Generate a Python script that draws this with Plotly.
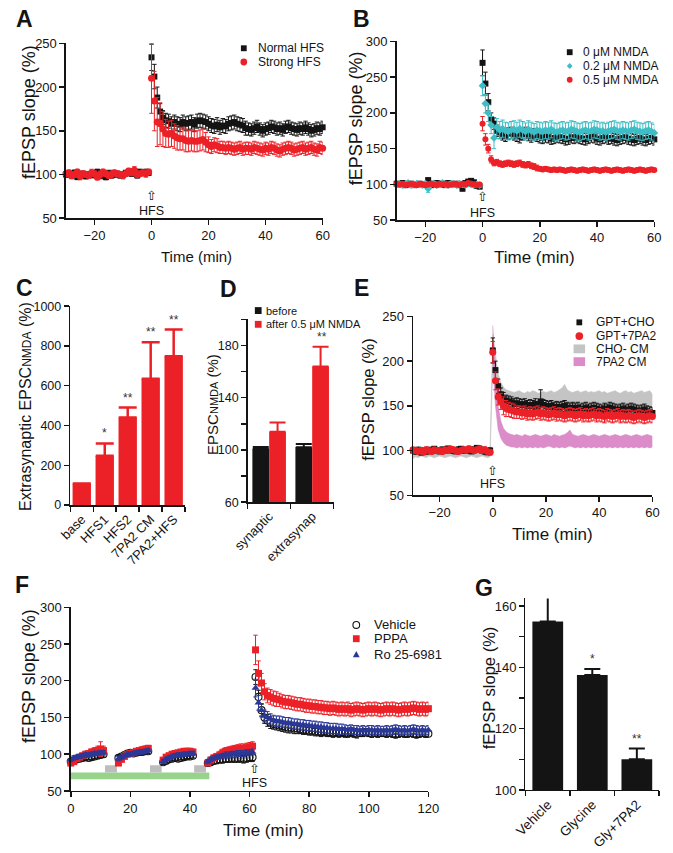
import plotly.graph_objects as go

W, H = 673, 853
FONT = "Liberation Sans, Arial, Helvetica, sans-serif"
RED = "#ec2027"; BLACK = "#141414"; CYAN = "#3dbdc6"; BLUE = "#2a3897"
GRAY = "#c4c4c4"; PINK = "#dc8cc8"; GREEN = "#97d38b"; BOXGRAY = "#bdbdbd"

def px(x): return x / W
def py(y): return 1 - y / H

# ---------------- DATA ----------------
# Panel A
tA_base = list(range(-30, 0))
tA_post = list(range(0, 61))
A_normal_base = [100,101,99,102,97,100,101,98,100,99, 101,103,98,100,97,102,99,100,101,99, 100,102,103,101,104,99,103,102,103,102]
A_normal_base_err = [3,2,3,3,2,3,2,3,3,2, 3,3,2,3,3,2,3,3,2,3, 3,2,3,3,2,3,3,2,3,3]
A_strong_base = [101,102,99,100,103,98,101,100,99,102, 101,97,100,103,101,99,100,102,101,100, 99,101,104,102,105,100,101,102,101,103]
A_strong_base_err = [3,3,4,3,3,4,3,3,3,4, 3,3,4,3,3,3,4,3,3,3, 4,3,3,3,4,3,3,3,4,3]
A_normal_post = [234,212,188,172,165,162,161,158,160,158, 157,160,158,159,160,157,161,162,161,160,
                 158,156,155,157,154,156,155,158,159,160, 158,157,156,153,152,151,153,155,152,150,
                 152,153,155,154,152,153,151,154,155,153, 152,151,153,152,154,152,150,151,153,152, 154]
A_normal_post_err = [15,14,12,9,8,8,8,8,8,8, 8,8,8,8,8,8,8,8,8,8, 8,8,8,8,8,8,8,8,8,8,
                     8,8,8,8,7,7,7,7,7,7, 7,7,7,7,7,7,7,7,7,7, 7,7,7,7,7,7,7,7,7,7, 7]
A_strong_post = [210,184,160,158,152,147,146,147,144,142, 141,141,139,138,139,138,138,139,140,137,
                 134,132,134,133,131,131,130,131,130,129, 130,131,129,130,130,129,131,130,129,128,
                 130,129,131,130,128,127,129,130,131,130, 128,129,130,131,129,130,131,129,128,131, 130]
A_strong_post_err = [40,34,28,24,20,16,15,15,14,14, 13,13,13,12,12,12,12,12,12,11,
                     9,8,8,8,7,7,7,7,7,7, 7,7,7,7,7,7,7,7,7,7, 7,7,7,7,7,7,7,7,7,7, 7,7,7,7,7,7,7,7,7,7, 7]

# Panel B
B_0_base = [101,100,102,99,100,101,99,100,101,100, 100,106,99,101,102,100,101,99,102,101, 100,101,99,94,102,104,105,103,98,97]
B_0_base_err = [3,2,3,2,3,2,3,2,3,2, 3,3,2,3,2,3,2,3,2,3, 2,3,2,3,3,2,3,2,3,3]
B_02_base = [100,101,99,100,102,99,100,101,100,99, 101,94,100,101,99,100,102,100,99,101, 100,99,101,100,99,101,100,99,100,99]
B_02_base_err = [3,3,3,3,3,3,3,3,3,3, 3,5,3,3,3,3,3,3,3,3, 3,3,3,3,3,3,3,3,3,3]
B_05_base = [101,100,101,99,100,101,100,99,101,100, 99,100,101,100,99,101,100,101,99,100, 101,100,99,101,100,102,101,100,99,100]
B_05_base_err = [2,2,2,2,2,2,2,2,2,2, 2,2,2,2,2,2,2,2,2,2, 2,2,2,2,2,2,2,2,2,2]
B_0_post = [270,241,215,191,185,175,172,170,168,171, 172,170,168,166,170,172,169,167,170,168,
            166,165,167,166,164,165,167,166,165,163, 164,166,165,167,165,164,163,165,167,166,
            164,163,165,166,164,165,163,162,164,165, 166,164,163,162,164,165,163,162,164,165, 163]
B_0_post_err = [18,16,12,9,8,8,8,8,8,8, 8,8,8,8,8,8,8,8,8,8, 8,8,8,8,8,8,8,8,8,8,
                8,8,8,8,8,8,8,8,8,8, 8,8,8,8,8,8,8,8,8,8, 8,8,8,8,8,8,8,8,8,8, 8]
B_02_post = [238,213,200,183,165,180,176,178,175,174, 176,177,175,178,176,174,177,175,173,176,
             175,174,176,175,177,174,173,175,176,174, 175,177,176,174,173,175,176,174,175,177,
             176,174,175,173,175,176,177,175,174,176, 175,174,176,177,175,174,173,175,176,174, 172]
B_02_post_err = [14,13,12,12,15,12,12,12,12,12, 12,12,12,12,12,12,12,12,12,12, 12,12,12,12,12,12,12,12,12,12,
                 12,12,12,12,12,12,12,12,12,12, 12,12,12,12,12,12,12,12,12,12, 12,12,12,12,12,12,12,12,12,12, 12]
B_05_post = [185,163,150,135,130,131,129,128,129,130, 129,128,129,130,128,127,128,126,125,123,
             122,121,122,121,120,121,120,121,120,119, 120,121,120,119,120,121,120,119,120,121,
             120,119,120,121,120,119,120,121,120,119, 120,121,120,119,120,121,120,119,120,121, 120]
B_05_post_err = [10,8,6,5,4,4,4,4,4,4, 4,4,4,4,4,4,4,4,4,4, 3,3,3,3,3,3,3,3,3,3,
                 3,3,3,3,3,3,3,3,3,3, 3,3,3,3,3,3,3,3,3,3, 3,3,3,3,3,3,3,3,3,3, 3]

# Panel C
C_cats = ["base", "HFS1", "HFS2", "7PA2 CM", "7PA2+HFS"]
C_vals = [108, 248, 440, 635, 748]
C_err = [0, 62, 50, 183, 134]
C_stars = ["", "*", "**", "**", "**"]

# Panel D
D_cats = ["synaptic", "extrasynap"]
D_before = [101, 102]
D_before_err = [1.2, 2.5]
D_after = [114, 164]
D_after_err = [7, 15]
D_stars = ["", "**"]

# Panel E
E_cho_base = [100,99,101,98,100,99,101,100,102,100, 99,101,100,102,101,100,99,101,102,100, 101,100,99,101,103,102,100,99,98,100]
E_7pa2_base = [101,100,99,100,98,101,100,99,101,100, 100,99,101,100,102,101,100,99,100,101, 100,102,101,100,101,102,100,101,99,98]
E_base_err = [2,3,2,3,2,3,2,3,2,3, 2,3,2,3,2,3,2,3,2,3, 2,3,2,3,2,3,2,3,2,3]
E_cho_post = [212,190,172,163,158,156,155,154,152,153, 152,151,152,150,151,150,152,149,155,151,
              150,149,150,148,149,148,149,150,148,147, 148,147,148,146,147,148,146,147,148,147,
              146,145,147,146,148,147,146,145,146,147, 145,146,147,146,145,144,145,146,144,143, 142]
E_cho_post_err = [14,10,8,7,7,6,6,6,6,6, 6,6,6,6,6,6,6,6,13,6, 6,6,6,6,6,6,6,6,6,6,
                  6,6,6,6,6,6,6,6,6,6, 6,6,6,6,6,6,6,6,6,6, 6,6,6,6,6,6,6,6,6,6, 6]
E_7pa2_post = [210,178,160,155,150,147,146,145,144,143, 143,142,143,141,142,141,142,143,141,142,
               141,140,141,142,140,141,140,139,140,141, 140,139,140,141,139,140,139,140,141,139,
               140,139,138,140,139,138,139,140,138,139, 138,139,138,137,138,139,138,137,138,139, 138]
E_7pa2_post_err = [12,10,9,9,10,9,8,8,8,7, 7,7,7,7,7,7,7,7,7,7, 7,7,7,7,7,7,7,7,7,7,
                   7,7,7,7,7,7,7,7,7,7, 7,7,7,7,7,7,7,7,7,7, 7,7,7,7,7,7,7,7,7,7, 7]
E_gray_base_up = [104,103,105,103,104,102,104,103,104,103, 104,103,105,104,103,104,102,104,103,104, 103,104,105,103,104,103,104,105,103,104]
E_gray_base_lo = [91,93,92,94,93,92,94,93,92,93, 94,93,92,93,94,93,92,93,94,93, 92,93,94,93,92,93,94,93,92,93]
E_gray_post_up = [230,205,186,176,171,168,167,166,165,166, 167,165,164,166,165,167,166,164,165,166,
                  165,166,167,165,166,168,170,174,168,166, 165,166,167,165,166,167,165,166,165,166,
                  167,165,166,164,165,166,167,165,164,166, 167,165,166,164,165,166,167,165,166,167, 163]
E_gray_post_lo = [196,172,155,148,146,145,144,143,143,142, 143,142,142,143,142,141,142,143,142,141,
                  142,141,142,143,142,141,142,143,142,141, 142,143,142,141,142,141,142,143,142,141,
                  142,141,142,143,142,141,142,143,142,141, 142,143,142,141,142,141,142,143,142,141, 140]
E_pink_post_up = [240,185,150,133,125,121,119,118,117,118, 117,116,118,117,116,117,118,117,116,117,
                  118,117,116,118,117,116,117,118,120,123, 118,117,116,117,118,117,116,117,118,117,
                  116,117,118,117,116,117,118,117,116,117, 118,117,116,117,118,117,116,117,118,117, 116]
E_pink_post_lo = [200,150,124,114,109,106,105,104,104,103, 104,103,104,103,104,103,104,103,104,103,
                  104,105,104,103,104,103,104,103,104,105, 104,103,104,103,104,103,104,103,104,103,
                  104,103,104,103,104,103,104,103,104,103, 104,103,104,103,104,103,104,103,104,103, 104]

# Panel F
F_t = list(range(0, 12)) + list(range(16, 27)) + list(range(31, 42)) + list(range(46, 62)) + list(range(62, 121))
F_veh = ([90,91,93,94,95,96,95,96,97,98,99,100] +
         [95,97,99,101,102,101,102,103,103,104,104] +
         [89,91,93,94,95,94,95,96,97,97,98] +
         [88,89,91,92,93,93,94,94,95,94,95,95,94,95,96,96] +
         [205,178,160,150,146,143,141,140,139,138, 137,136,136,135,135,134,133,133,132,132,
          131,131,130,131,130,130,129,130,129,130, 129,129,130,129,128,129,129,130,129,128,
          129,128,129,129,128,129,128,127,128,129, 128,128,129,128,127,128,129,128,128])
F_veh_err = ([3,3,3,2,3,3,2,3,3,3,3,4] + [3,3,2,3,3,2,3,3,3,2,3] + [3,3,2,3,3,3,2,3,3,3,3] +
             [4,4,4,5,5,5,5,5,6,5,6,6,6,6,6,6] +
             [10,9,8,8,8,8,7,7,7,7, 7,7,7,7,7,6,6,6,6,6, 6,6,6,6,6,6,6,6,6,6,
              6,6,6,6,6,5,5,5,5,5, 5,5,5,5,5,5,5,5,5,5, 5,5,5,5,5,5,5,5,5])
F_pppa = ([88,90,94,96,98,100,101,103,104,105,107,105] +
          [88,93,97,100,101,102,104,105,106,107,108] +
          [92,96,98,100,101,102,103,104,104,104,103] +
          [88,92,95,97,99,102,104,105,106,107,107,108,108,109,110,111] +
          [242,210,197,185,180,178,176,175,174,172, 171,171,170,169,168,168,167,166,166,165,
           165,164,164,163,163,162,163,162,161,162, 161,162,160,161,162,161,160,161,162,161,
           162,161,160,161,162,161,162,161,160,161, 162,161,162,163,162,161,162,161,162])
F_pppa_err = ([3,3,3,3,3,4,4,4,5,6,10,6] + [3,3,3,3,3,3,3,3,4,4,4] + [3,3,3,3,3,3,3,3,4,4,4] +
              [3,4,4,4,5,5,5,5,5,5,6,6,6,6,6,6] +
              [20,17,13,11,10,10,10,10,9,9, 9,9,9,9,9,9,9,9,9,9, 9,9,9,9,9,9,9,9,9,9,
               9,9,9,9,9,9,9,9,9,9, 9,9,9,9,9,9,9,9,9,9, 9,9,9,9,9,9,9,9,9])
F_ro = ([93,95,96,97,98,99,99,100,101,101,102,102] +
        [94,96,98,100,100,101,102,103,103,104,105] +
        [90,93,95,97,98,99,99,100,100,101,101] +
        [90,93,95,96,97,98,99,99,100,100,101,101,101,102,102,103] +
        [190,170,160,152,150,148,146,145,145,144, 143,143,142,141,141,140,140,139,139,138,
         138,137,137,136,136,135,135,135,134,134, 134,133,134,133,133,132,133,132,133,133,
         132,133,132,132,133,132,133,134,133,132, 133,132,133,134,133,132,133,132,133])
F_ro_err = ([3,3,3,3,3,3,3,3,3,3,3,3] + [3,3,3,3,3,3,3,3,3,3,3] + [3,3,3,3,3,3,3,3,3,3,3] +
            [3,3,3,3,3,3,4,4,4,4,4,4,4,4,4,4] +
            [12,10,9,8,8,7,7,7,7,7, 7,7,7,7,7,7,7,7,7,7, 7,7,7,7,7,7,7,7,7,7,
             6,6,6,6,6,6,6,6,6,6, 6,6,6,6,6,6,6,6,6,6, 6,6,6,6,6,6,6,6,6])
F_green = (0, 46.5)
F_gray_boxes = [(11.5, 15.5), (26.6, 30.5), (41.4, 45.4)]
F_hfs = 61.5

# Panel G
G_cats = ["Vehicle", "Glycine", "Gly+7PA2"]
G_vals = [155, 137.5, 110]
G_err = [8.5, 2, 3.5]
G_stars = ["", "*", "**"]

# ---------------- FIGURE ----------------
fig = go.Figure()

def ts(x, y, err, color, symbol, size, xa, ya, lw=0):
    fig.add_trace(go.Scatter(
        x=x, y=y, mode="markers", xaxis=xa, yaxis=ya,
        marker=dict(symbol=symbol, size=size, color=color, line=dict(width=lw, color=color)),
        error_y=dict(type="data", array=err, color=color, thickness=1, width=2.2),
        cliponaxis=False, showlegend=False, hoverinfo="skip"))

def band(x, up, lo, color, xa, ya):
    fig.add_trace(go.Scatter(
        x=list(x) + list(x)[::-1], y=list(up) + list(lo)[::-1], mode="lines",
        fill="toself", fillcolor=color, line=dict(width=0.6, color=color),
        xaxis=xa, yaxis=ya, showlegend=False, hoverinfo="skip"))

# A
ts(tA_base + tA_post, A_normal_base + A_normal_post, A_normal_base_err + A_normal_post_err, BLACK, "square", 6, "x", "y")
ts(tA_base + tA_post, A_strong_base + A_strong_post, A_strong_base_err + A_strong_post_err, RED, "circle", 7, "x", "y")
# B
ts(tA_base + tA_post, B_0_base + B_0_post, B_0_base_err + B_0_post_err, BLACK, "square", 6, "x2", "y2")
ts(tA_base + tA_post, B_02_base + B_02_post, B_02_base_err + B_02_post_err, CYAN, "diamond", 6, "x2", "y2")
ts(tA_base + tA_post, B_05_base + B_05_post, B_05_base_err + B_05_post_err, RED, "circle", 6, "x2", "y2")
# C
fig.add_trace(go.Bar(x=C_cats, y=C_vals, width=0.8, marker=dict(color=RED, line=dict(width=0)),
                     error_y=dict(type="data", array=C_err, arrayminus=[0]*len(C_err), symmetric=False,
                                  color=RED, thickness=2.5, width=9),
                     xaxis="x3", yaxis="y3", showlegend=False, hoverinfo="skip"))
# D
fig.add_trace(go.Bar(x=D_cats, y=[v - 60 for v in D_before], base=60, width=0.39, offset=-0.39,
                     marker=dict(color=BLACK, line=dict(width=0)),
                     error_y=dict(type="data", array=D_before_err, arrayminus=[0, 0], symmetric=False,
                                  color=BLACK, thickness=2, width=8),
                     xaxis="x4", yaxis="y4", showlegend=False, hoverinfo="skip"))
fig.add_trace(go.Bar(x=D_cats, y=[v - 60 for v in D_after], base=60, width=0.39, offset=0,
                     marker=dict(color=RED, line=dict(width=0)),
                     error_y=dict(type="data", array=D_after_err, arrayminus=[0, 0], symmetric=False,
                                  color=RED, thickness=2, width=8),
                     xaxis="x4", yaxis="y4", showlegend=False, hoverinfo="skip"))
# E
band(tA_base + tA_post, E_gray_base_up + E_gray_post_up, E_gray_base_lo + E_gray_post_lo, GRAY, "x5", "y5")
band(tA_post, E_pink_post_up, E_pink_post_lo, PINK, "x5", "y5")
ts(tA_base + tA_post, E_cho_base + E_cho_post, E_base_err + E_cho_post_err, BLACK, "square", 6, "x5", "y5")
ts(tA_base + tA_post, E_7pa2_base + E_7pa2_post, E_base_err + E_7pa2_post_err, RED, "circle", 7, "x5", "y5")
# F
ts(F_t, F_veh, F_veh_err, BLACK, "circle-open", 7, "x6", "y6", lw=1.1)
ts(F_t, F_pppa, F_pppa_err, RED, "square", 7, "x6", "y6")
ts(F_t, F_ro, F_ro_err, BLUE, "triangle-up", 7, "x6", "y6")
# G
fig.add_trace(go.Bar(x=G_cats, y=[v - 100 for v in G_vals], base=100, width=0.69,
                     marker=dict(color=BLACK, line=dict(width=0)),
                     error_y=dict(type="data", array=G_err, arrayminus=[0]*3, symmetric=False,
                                  color=BLACK, thickness=2, width=8),
                     xaxis="x7", yaxis="y7", showlegend=False, hoverinfo="skip"))

# ---------------- AXES ----------------
def lin_axis(dom, rng, tickvals, anchor, ticktext=None, size=13):
    d = dict(domain=dom, range=rng, anchor=anchor, showline=True, linecolor=BLACK, linewidth=1.5,
             ticks="outside", ticklen=5, tickwidth=1.5, tickcolor=BLACK, showgrid=False, zeroline=False,
             tickmode="array", tickvals=tickvals, tickfont=dict(size=size, color=BLACK, family=FONT),
             fixedrange=True)
    if ticktext is not None:
        d["ticktext"] = ticktext
    return d

def cat_axis(dom, cats, anchor, size=12.5):
    return dict(domain=dom, type="category", categoryorder="array", categoryarray=cats,
                range=[-0.5, len(cats) - 0.5], anchor=anchor, showline=True, linecolor=BLACK,
                linewidth=1.5, ticks="outside", ticklen=5, tickwidth=1.5, tickcolor=BLACK,
                tickson="boundaries", tickangle=-45, showgrid=False, zeroline=False,
                tickfont=dict(size=size, color=BLACK, family=FONT), fixedrange=True)

tx = [-20, 0, 20, 40, 60]
layout_axes = dict(
    xaxis=lin_axis([px(53), px(320)], [-30, 60], tx, "y"),
    yaxis=lin_axis([py(215), py(37)], [50, 250], [50, 100, 150, 200, 250], "x"),
    xaxis2=lin_axis([px(397), px(665)], [-30, 60], tx, "y2"),
    yaxis2=lin_axis([py(217), py(35)], [50, 300], [50, 100, 150, 200, 250, 300], "x2"),
    xaxis3=cat_axis([px(57.5), px(177)], C_cats, "y3", size=13),
    yaxis3=lin_axis([py(507), py(304.5)], [0, 1000], [0, 200, 400, 600, 800, 1000], "x3", size=12.5),
    xaxis4=cat_axis([px(242), px(331.5)], D_cats, "y4", size=13),
    yaxis4=lin_axis([py(504), py(318)], [60, 200], [60, 80, 100, 120, 140, 160, 180, 200], "x4",
                    ticktext=["60", "", "100", "", "140", "", "180", ""], size=12.5),
    xaxis5=lin_axis([px(414), px(663)], [-30, 60], tx, "y5"),
    yaxis5=lin_axis([py(497), py(315)], [50, 250], [50, 100, 150, 200, 250], "x5"),
    xaxis6=lin_axis([px(58), px(430)], [0, 120], [0, 20, 40, 60, 80, 100, 120], "y6"),
    yaxis6=lin_axis([py(798), py(611)], [50, 300], [50, 100, 150, 200, 250, 300], "x6"),
    xaxis7=cat_axis([px(531), px(670)], G_cats, "y7", size=13.5),
    yaxis7=lin_axis([py(797), py(602)], [100, 162.5], [100, 110, 120, 130, 140, 150, 160], "x7",
                    ticktext=["100", "", "120", "", "140", "", "160"]),
)

ann = []
shapes = []

def text(x, y, s, size, bold=False, angle=0, xanchor="center", yanchor="middle", color=BLACK):
    ann.append(dict(x=px(x), y=py(y), xref="paper", yref="paper", text=("<b>%s</b>" % s) if bold else s,
                    showarrow=False, textangle=angle, xanchor=xanchor, yanchor=yanchor,
                    font=dict(size=size, color=color, family=FONT)))

# panel letters
for lab, (x, y) in {"A": (10, 12.5), "B": (360, 12.5), "C": (10, 286), "D": (222, 287),
                    "E": (360, 286), "F": (7, 588), "G": (488, 591)}.items():
    text(x, y, lab, 23, bold=True)

# axis titles
text(189, 254, "Time (min)", 15)
text(14.5, 107, "fEPSP slope (%)", 18, angle=-90)
text(540, 255, "Time (min)", 17)
text(355, 113, "fEPSP slope (%)", 18, angle=-90)
text(11.5, 407, "Extrasynaptic EPSC<span style='font-size:12px'>NMDA</span> (%)", 16, angle=-90)
text(206, 405, "EPSC<span style='font-size:11px'>NMDA</span> (%)", 15, angle=-90)
text(559, 537, "Time (min)", 17)
text(367, 399, "fEPSP slope (%)", 16.5, angle=-90)
text(259, 838, "Time (min)", 17)
text(14.5, 681, "fEPSP slope (%)", 18, angle=-90)
text(492.5, 693, "fEPSP slope (%)", 16.5, angle=-90)

# HFS markers
def hfs(xref, xval, y_arrow, y_text):
    ann.append(dict(x=xval, xref=xref, y=py(y_arrow), yref="paper", text="⇧", showarrow=False,
                    font=dict(size=13, color=BLACK, family="DejaVu Sans"), yanchor="middle"))
    ann.append(dict(x=xval, xref=xref, y=py(y_text), yref="paper", text="HFS", showarrow=False,
                    font=dict(size=12.5, color=BLACK, family=FONT), yanchor="middle"))
hfs("x", 0, 192, 208)
hfs("x2", 0, 193, 210)
hfs("x5", 0, 472, 486)
hfs("x6", F_hfs, 775, 790)

# significance stars
def stars(xa, ya, cats, vals, errs, ss, xshift=0):
    for c, v, e, s in zip(cats, vals, errs, ss):
        if s:
            ann.append(dict(x=c, y=v + e, xref=xa, yref=ya, text=s, showarrow=False, yanchor="bottom",
                            xshift=xshift, yshift=1, font=dict(size=12, color="#333333", family=FONT)))
stars("x3", "y3", C_cats, C_vals, C_err, C_stars)
stars("x4", "y4", D_cats, D_after, D_after_err, D_stars, xshift=10)
stars("x7", "y7", G_cats, G_vals, G_err, G_stars)

# manual legends
def sym(x, y, kind, color, s=6):
    h = s / 2
    if kind == "square":
        shapes.append(dict(type="rect", xref="paper", yref="paper", x0=px(x - h), x1=px(x + h),
                           y0=py(y + h), y1=py(y - h), fillcolor=color, line=dict(width=0)))
    elif kind == "rect":
        shapes.append(dict(type="rect", xref="paper", yref="paper", x0=px(x - 6), x1=px(x + 6),
                           y0=py(y + 4.5), y1=py(y - 4.5), fillcolor=color, line=dict(width=0)))
    elif kind in ("circle", "open"):
        shapes.append(dict(type="circle", xref="paper", yref="paper", x0=px(x - h), x1=px(x + h),
                           y0=py(y + h), y1=py(y - h),
                           fillcolor=color if kind == "circle" else "white",
                           line=dict(width=0 if kind == "circle" else 1.1, color=color)))
    elif kind == "diamond":
        p = "M %f %f L %f %f L %f %f L %f %f Z" % (px(x), py(y - h), px(x + h), py(y), px(x), py(y + h), px(x - h), py(y))
        shapes.append(dict(type="path", xref="paper", yref="paper", path=p, fillcolor=color, line=dict(width=0)))
    elif kind == "triangle":
        p = "M %f %f L %f %f L %f %f Z" % (px(x), py(y - h), px(x + h), py(y + h * 0.8), px(x - h), py(y + h * 0.8))
        shapes.append(dict(type="path", xref="paper", yref="paper", path=p, fillcolor=color, line=dict(width=0)))

def legend(mx, tx_, rows, size):
    for (y, kind, color, s, label) in rows:
        sym(mx, y, kind, color, s)
        text(tx_, y, label, size, xanchor="left")

legend(238, 251, [(42, "square", BLACK, 6, "Normal HFS"), (56, "circle", RED, 7, "Strong HFS")], 12)
legend(577, 589, [(46, "square", BLACK, 6, "0 μM NMDA"), (60, "diamond", CYAN, 6, "0.2 μM NMDA"),
                  (74, "circle", RED, 6, "0.5 μM NMDA")], 12)
legend(253, 259, [(309, "square", BLACK, 7, "before"), (323, "square", RED, 7, "after 0.5 μM NMDA")], 11)
legend(587, 602, [(321, "square", BLACK, 6, "GPT+CHO"), (335, "circle", RED, 8, "GPT+7PA2"),
                  (348, "rect", GRAY, 8, "CHO- CM"), (361, "rect", PINK, 8, "7PA2 CM")], 12)
legend(355, 371, [(629, "open", BLACK, 7, "Vehicle"), (643, "square", RED, 7, "PPPA"),
                  (659, "triangle", BLUE, 7, "Ro 25-6981")], 13)

# F treatment bars (drawn in data coordinates)
shapes.append(dict(type="rect", xref="x6", yref="y6", x0=F_green[0], x1=F_green[1], y0=66, y1=75,
                   fillcolor=GREEN, line=dict(width=0), layer="below"))
for a, b in F_gray_boxes:
    shapes.append(dict(type="rect", xref="x6", yref="y6", x0=a, x1=b, y0=75, y1=85,
                       fillcolor=BOXGRAY, line=dict(width=0), layer="below"))

fig.update_layout(
    width=W, height=H, margin=dict(l=0, r=0, t=0, b=0), autosize=False,
    paper_bgcolor="white", plot_bgcolor="white", showlegend=False,
    font=dict(family=FONT, color=BLACK),
    annotations=ann, shapes=shapes, **layout_axes)

fig.write_html("out.html", config={"displayModeBar": False, "staticPlot": True},
               post_script="document.body.style.margin='0px';document.body.style.overflow='hidden';")
